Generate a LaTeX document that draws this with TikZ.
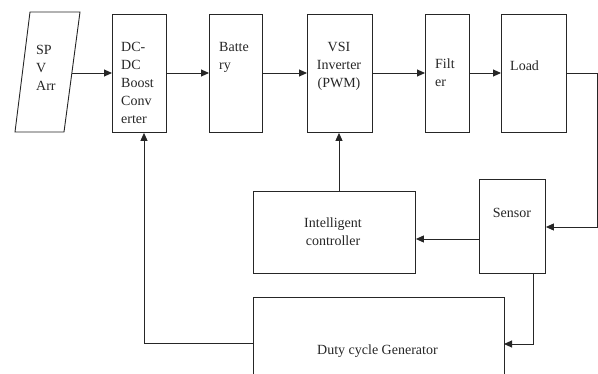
\documentclass[tikz,border=0pt]{standalone}
\usepackage{fontspec}
\setmainfont{Liberation Serif}
\usetikzlibrary{arrows.meta}
\begin{document}
\begin{tikzpicture}[x=1pt,y=-1pt,
  box/.style={draw=black!85,line width=0.9pt,rectangle,inner sep=0pt,anchor=north west},
  lbl/.style={inner sep=0pt,font=\fontsize{14}{18}\selectfont,text=black!85},
  conn/.style={draw=black!85,line width=0.9pt},
  arr/.style={conn,-{Triangle[length=8pt,width=7pt]}}]
\useasboundingbox (0,0) rectangle (598,374);
\clip (0,0) rectangle (598,374);
% SPV array parallelogram
\coordinate (p1) at (30,12);
\coordinate (p2) at (80,12);
\coordinate (p3) at (64,132);
\coordinate (p4) at (15,132);
\draw[conn] (p1) -- (p2) -- (p3) -- (p4) -- cycle;
\coordinate (spvout) at (72,73);
\node[lbl,anchor=north west,align=left] (spvt) at (36,45) {SP\\V\\Arr};
% boxes
\node[box,minimum width=54pt,minimum height=118pt] (dc) at (112,14) {};
\node[box,minimum width=53pt,minimum height=118pt] (bat) at (209,14) {};
\node[box,minimum width=65pt,minimum height=118pt] (vsi) at (307,14) {};
\node[box,minimum width=44pt,minimum height=118pt] (fil) at (425,14) {};
\node[box,minimum width=65pt,minimum height=118pt] (load) at (501,14) {};
\node[box,minimum width=66pt,minimum height=94pt] (sen) at (479,179) {};
\node[box,minimum width=162pt,minimum height=82pt] (ic) at (253,191) {};
% duty cycle generator (open at bottom, runs off the picture)
\coordinate (d1) at (253,380);
\coordinate (d2) at (253,297);
\coordinate (d3) at (504,297);
\coordinate (d4) at (504,380);
\draw[conn] (d1) -- (d2) -- (d3) -- (d4);
% texts
\node[lbl,anchor=north west,align=left] (dct) at (121,42) {DC-\\DC\\Boost\\Conv\\erter};
\node[lbl,anchor=north west,align=left] (batt) at (219,42) {Batte\\ry};
\node[lbl,anchor=north,align=center] (vsit) at (339,42) {VSI\\Inverter\\(PWM)};
\node[lbl,anchor=north west,align=left] (filt) at (435,59) {Filt\\er};
\node[lbl,anchor=base west] (loadt) at (510,71) {Load};
\node[lbl,anchor=base] (sent) at (512,218) {Sensor};
\node[lbl,anchor=north,align=center] (ict) at (333,218) {Intelligent\\controller};
\node[lbl,anchor=base west] (dutyt) at (317,355) {Duty cycle Generator};
% connectors
\draw[arr] (spvout) -- (dc.west |- spvout);
\draw[arr] (dc.east |- spvout) -- (bat.west |- spvout);
\draw[arr] (bat.east |- spvout) -- (vsi.west |- spvout);
\draw[arr] (vsi.east |- spvout) -- (fil.west |- spvout);
\draw[arr] (fil.east |- spvout) -- (load.west |- spvout);
\coordinate (r1) at (597,73);
\coordinate (r2) at (597,227);
\draw[arr] (load.east |- r1) -- (r1) -- (r2) -- (sen.east |- r2);
\coordinate (s1) at (479,239);
\draw[arr] (s1) -- (ic.east |- s1);
\coordinate (icv) at (339,191);
\draw[arr] (icv) -- (vsi.south -| icv);
\coordinate (s2) at (533,273);
\coordinate (s3) at (533,344);
\draw[arr] (s2) -- (s3) -- (d3 |- s3);
\coordinate (g1) at (253,343);
\coordinate (g2) at (144,343);
\draw[arr] (g1) -- (g2) -- (dc.south -| g2);
\end{tikzpicture}
\end{document}
